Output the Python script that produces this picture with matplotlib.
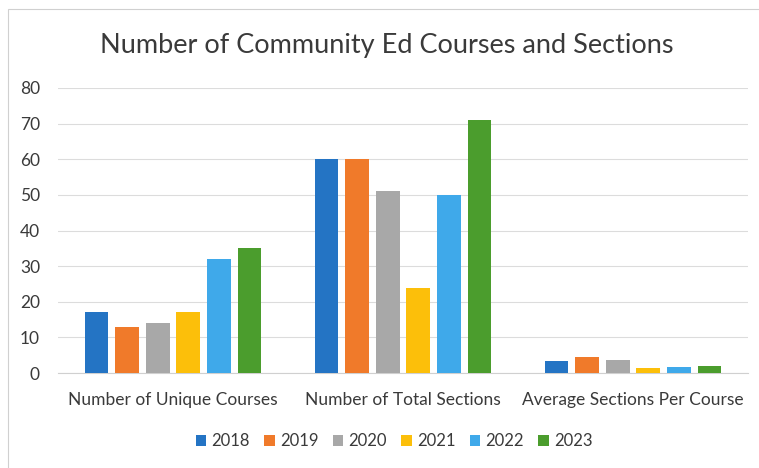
import matplotlib
matplotlib.use("Agg")
import matplotlib.pyplot as plt
import numpy as np
from matplotlib.patches import Rectangle

categories = ["Number of Unique Courses", "Number of Total Sections", "Average Sections Per Course"]
years = ["2018", "2019", "2020", "2021", "2022", "2023"]
values = {
    "2018": [17, 60, 3.5],
    "2019": [13, 60, 4.6],
    "2020": [14, 51, 3.6],
    "2021": [17, 24, 1.4],
    "2022": [32, 50, 1.6],
    "2023": [35, 71, 2.0],
}
colors = ["#2474c4", "#f07a2a", "#a8a8a8", "#fcbf0a", "#3fa9ea", "#4b9d2d"]
yticks = [0, 10, 20, 30, 40, 50, 60, 70, 80]

plt.rcParams['font.family'] = ['Lato', 'DejaVu Sans']

fig = plt.figure(figsize=(7.59, 4.68), dpi=100)
fig.patches.append(Rectangle((8/759, -0.1), 1.2, 1.1 - 9/468, transform=fig.transFigure,
                             fill=False, edgecolor="#d0d0d0", linewidth=0.8))
ax = fig.add_axes([58/759, 95/468, 690/759, 285/468])

x = np.arange(len(categories))
step = 0.133
width = 0.104
for i, (yr, c) in enumerate(zip(years, colors)):
    ax.bar(x + (i - 2.5) * step, values[yr], width=width, color=c, label=yr, zorder=3)

ax.set_xlim(-0.5, 2.5)
ax.set_ylim(0, 80)
ax.set_yticks(yticks)
ax.set_yticklabels([str(t) for t in yticks], fontsize=12.5, color="#3a3a3a")
ax.set_xticks(x)
ax.set_xticklabels(categories, fontsize=12.5, color="#3a3a3a")
ax.tick_params(axis="both", length=0)
ax.tick_params(axis="y", pad=13)
ax.tick_params(axis="x", pad=14)
ax.grid(axis="y", color="#dcdcdc", linewidth=0.8, zorder=0)
for s in ["top", "right", "left"]:
    ax.spines[s].set_visible(False)
ax.spines["bottom"].set_color("#d0d0d0")

fig.text(387/759, 1 - 45/468, "Number of Community Ed Courses and Sections",
         ha="center", va="center", fontsize=19.5, color="#3a3a3a")

fig.legend(loc="center", bbox_to_anchor=(394/759, 1 - 441/468), ncol=6, frameon=False,
           fontsize=12, handlelength=0.65, handleheight=0.65, columnspacing=0.85,
           handletextpad=0.3, labelcolor="#3a3a3a")

fig.savefig("out.png", dpi=100)
